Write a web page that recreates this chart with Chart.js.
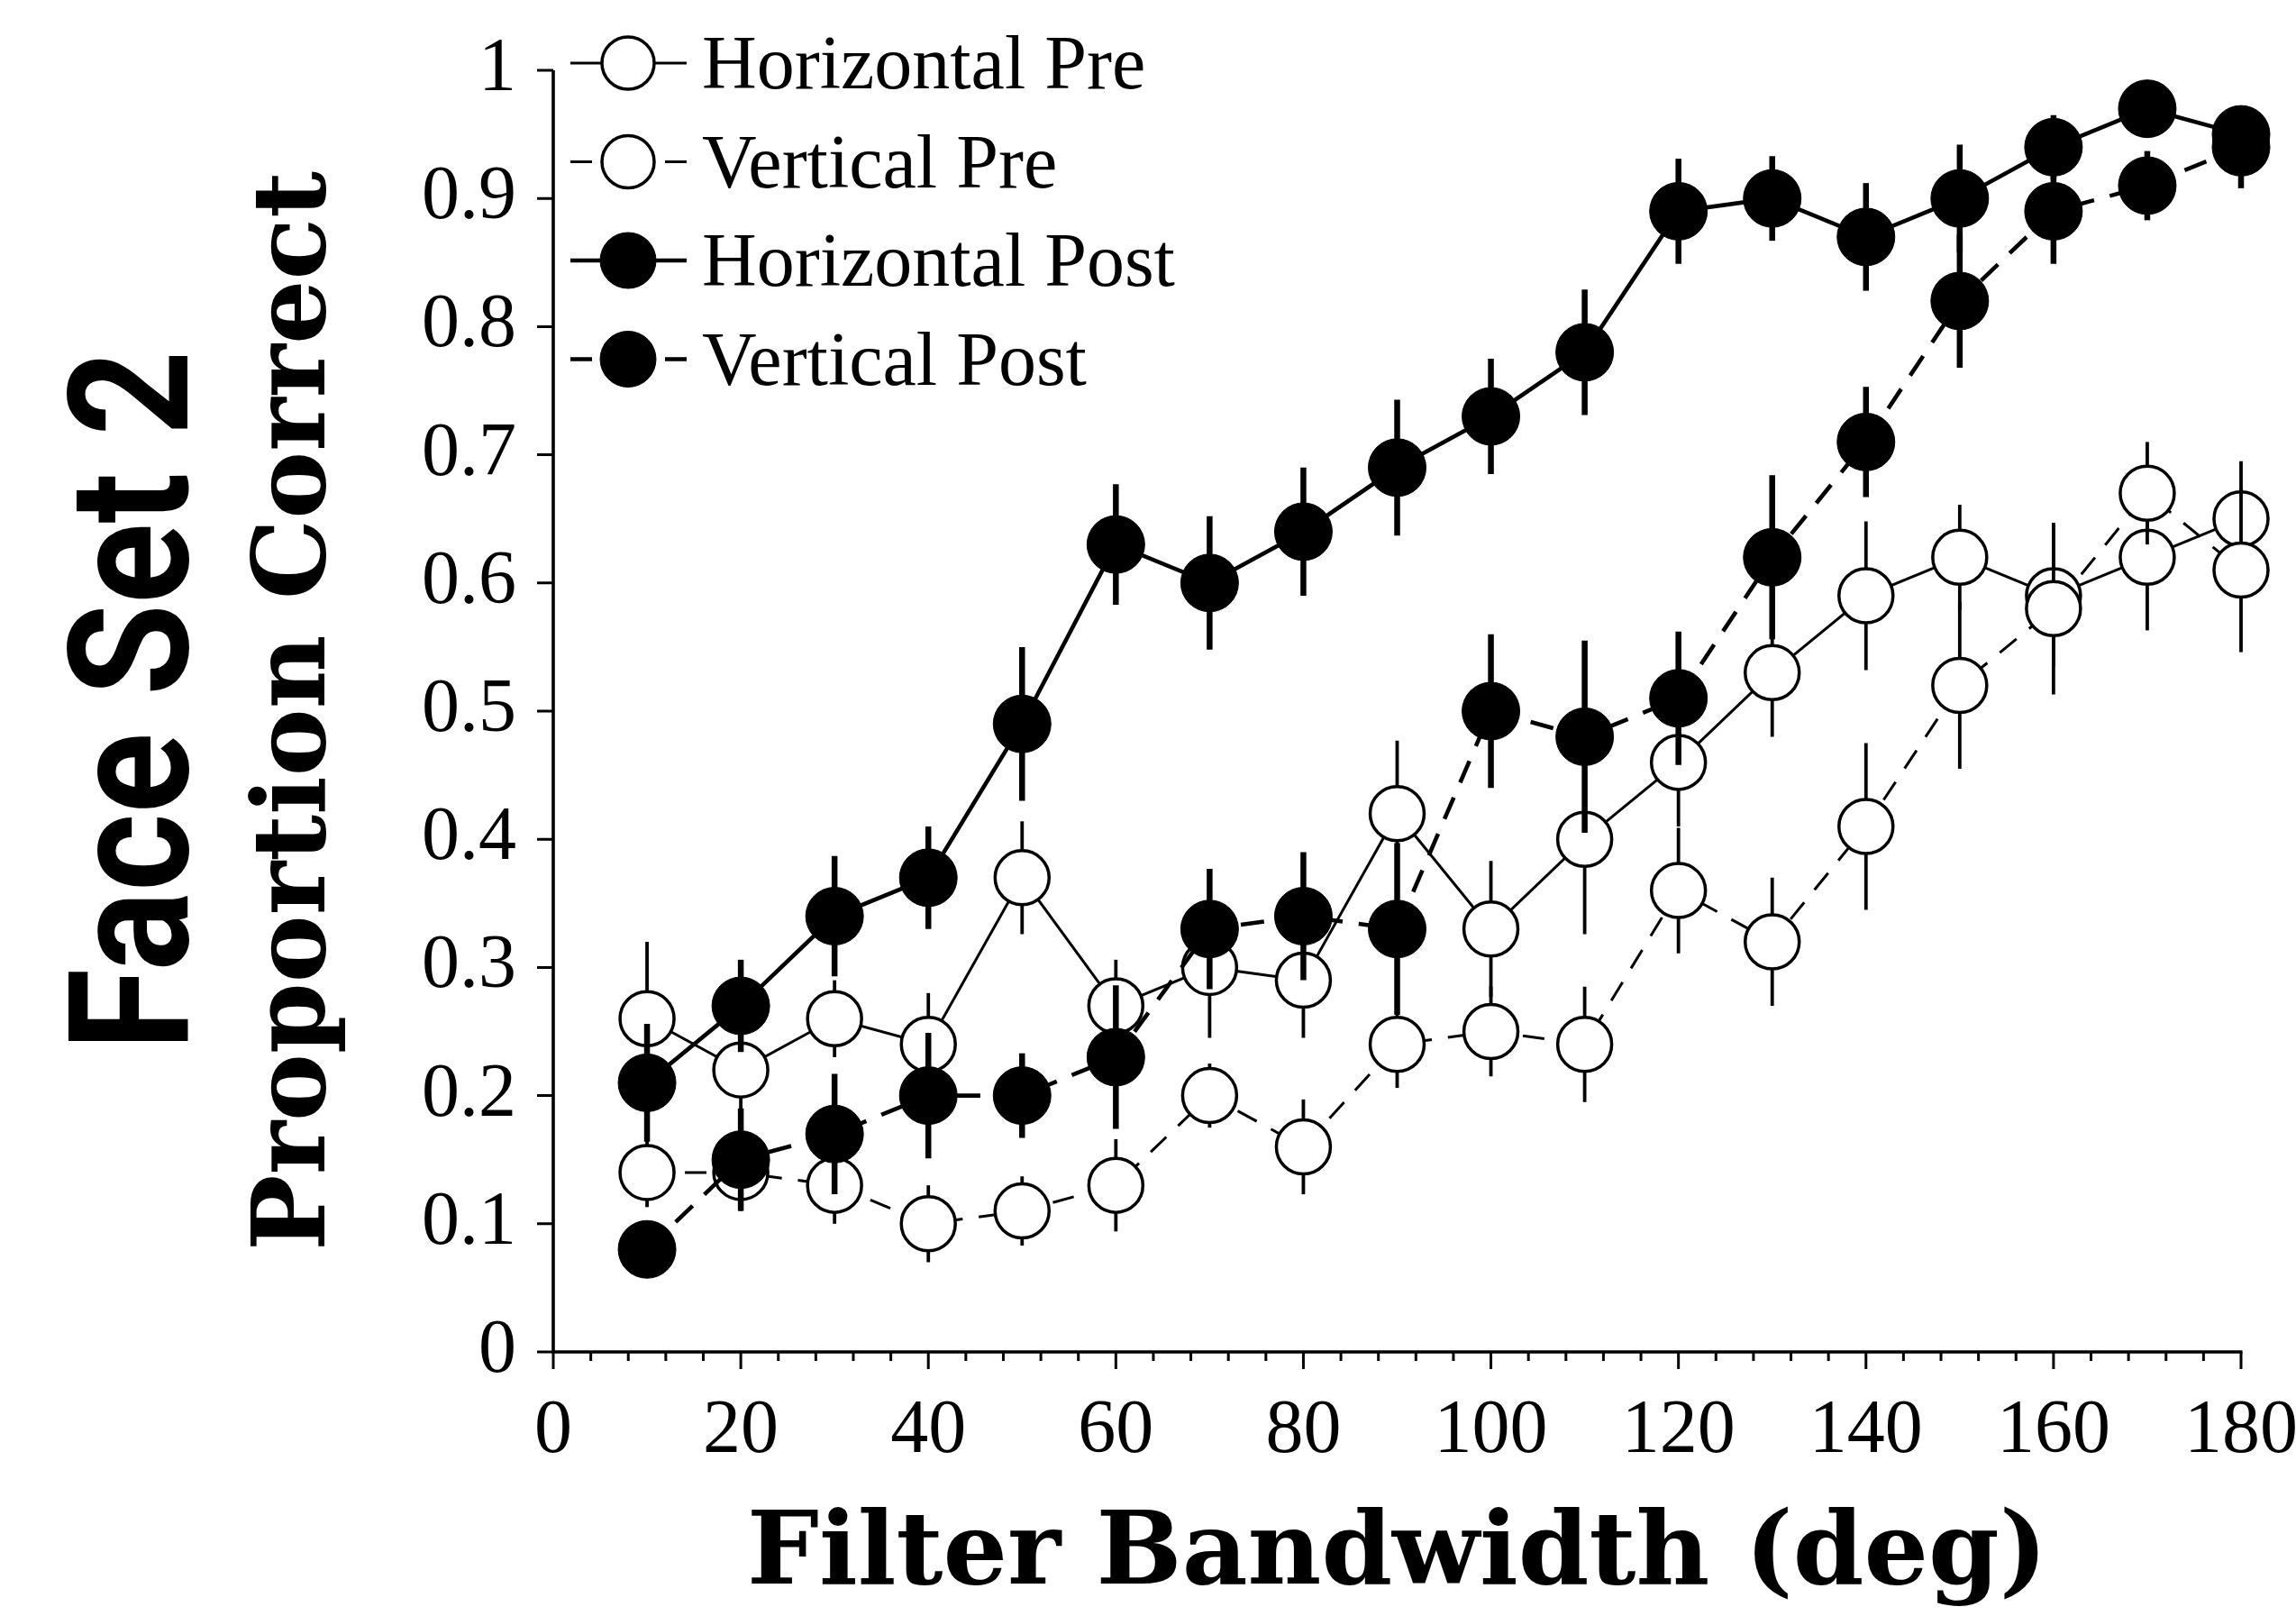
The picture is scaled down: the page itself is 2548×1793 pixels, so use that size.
<!DOCTYPE html>
<html>
<head>
<meta charset="utf-8">
<script src="https://cdn.jsdelivr.net/npm/chart.js@4.4.1/dist/chart.umd.min.js"></script>
<style>
html,body{margin:0;padding:0;background:#ffffff;}
canvas{display:block;}
</style>
</head>
<body>
<canvas id="c" width="2548" height="1793"></canvas>
<script>
// ---------------- data ----------------
const bandwidths = [10,20,30,40,50,60,70,80,90,100,110,120,130,140,150,160,170,180];

const horizontalPre    = [0.26,0.22,0.26,0.24,0.37,0.27,0.30,0.29,0.42,0.33,0.40,0.46,0.53,0.59,0.62,0.59,0.62,0.65];
const horizontalPreErr = [0.060,0.031,0.030,0.040,0.044,0.036,0.055,0.045,0.057,0.053,0.074,0.050,0.050,0.058,0.041,0.055,0.057,0.045];

const verticalPre      = [0.14,0.14,0.13,0.10,0.11,0.13,0.20,0.16,0.24,0.25,0.24,0.36,0.32,0.41,0.52,0.58,0.67,0.61];
const verticalPreErr   = [0.027,0.030,0.030,0.030,0.027,0.036,0.025,0.037,0.034,0.035,0.045,0.049,0.050,0.065,0.065,0.067,0.040,0.064];

const horizontalPost    = [0.21,0.27,0.34,0.37,0.49,0.63,0.60,0.64,0.69,0.73,0.78,0.89,0.90,0.87,0.90,0.94,0.97,0.95];
const horizontalPostErr = [0.046,0.036,0.047,0.040,0.060,0.047,0.052,0.050,0.053,0.045,0.049,0.041,0.033,0.042,0.042,0.025,0.012,0.020];

const verticalPost      = [0.08,0.15,0.17,0.20,0.20,0.23,0.33,0.34,0.33,0.50,0.48,0.51,0.62,0.71,0.82,0.89,0.91,0.94];
const verticalPostErr   = [0.020,0.040,0.047,0.049,0.033,0.056,0.047,0.050,0.067,0.060,0.075,0.052,0.064,0.043,0.052,0.041,0.027,0.032];

const seriesNames = ['Horizontal Pre','Vertical Pre','Horizontal Post','Vertical Post'];
const xTickLabels = ['0','20','40','60','80','100','120','140','160','180'];
const yTickLabels = ['0','0.1','0.2','0.3','0.4','0.5','0.6','0.7','0.8','0.9','1'];
const xAxisTitle = 'Filter Bandwidth (deg)';
const yAxisTitle = 'Proportion Correct';
const panelTitle = 'Face Set 2';

// ---------------- styles ----------------
const SERIF = '"Liberation Serif", "Times New Roman", serif';
const TITLE_SERIF = '"DejaVu Serif", "Liberation Serif", serif';
const styles = [
  {filled:false, dash:[],      lineWidth:3,   errWidth:3.8},
  {filled:false, dash:[24,18], lineWidth:3,   errWidth:3.8},
  {filled:true,  dash:[],      lineWidth:4.6, errWidth:6.5},
  {filled:true,  dash:[26,18], lineWidth:4.6, errWidth:6.5}
];
const seriesValues = [horizontalPre, verticalPre, horizontalPost, verticalPost];
const seriesErrors = [horizontalPreErr, verticalPreErr, horizontalPostErr, verticalPostErr];

// fit a bold title font to a target text length
const mctx = document.createElement('canvas').getContext('2d');
function fitSize(text, family, target){
  mctx.font = 'bold 100px ' + family;
  return 100 * target / mctx.measureText(text).width;
}
const MID = 0.346; // em distance from baseline to 'middle' for DejaVu Serif
const xTitleSize = fitSize(xAxisTitle, TITLE_SERIF, 1443);
const yTitleSize = fitSize(yAxisTitle, TITLE_SERIF, 1198);
const xTitlePadBottom = 1793 - (1767 - MID*xTitleSize) - xTitleSize/2;
const yTitlePadTop = (370 - MID*yTitleSize) - yTitleSize/2;

function makeDataset(k){
  const st = styles[k];
  return {
    label: seriesNames[k],
    data: bandwidths.map((b,i)=>({x:b, y:seriesValues[k][i]})),
    errors: seriesErrors[k],
    errWidth: st.errWidth,
    order: 4-k,
    borderColor:'#000',
    borderWidth: st.lineWidth,
    borderDash: st.dash,
    tension:0,
    fill:false,
    clip:false,
    pointStyle:'circle',
    pointRadius: st.filled ? 32 : 30,
    pointBorderWidth: st.filled ? 1 : 3.5,
    pointBackgroundColor: st.filled ? '#000' : '#fff',
    pointBorderColor:'#000',
    pointHoverRadius: st.filled ? 32 : 30
  };
}

// error bars: drawn just before each dataset (under its line and markers)
const errorBarPlugin = {
  id:'errorBars',
  beforeDatasetDraw(chart, args){
    const ds = chart.data.datasets[args.index];
    const xs = chart.scales.x, ys = chart.scales.y, ctx = chart.ctx;
    ctx.save();
    ctx.strokeStyle = '#000';
    ctx.lineWidth = ds.errWidth;
    ctx.lineCap = 'butt';
    ctx.setLineDash([]);
    ds.data.forEach((p,i)=>{
      const px = xs.getPixelForValue(p.x);
      ctx.beginPath();
      ctx.moveTo(px, ys.getPixelForValue(p.y - ds.errors[i]));
      ctx.lineTo(px, ys.getPixelForValue(p.y + ds.errors[i]));
      ctx.stroke();
    });
    ctx.restore();
  }
};

// axes lines and tick marks
const axesPlugin = {
  id:'axesLines',
  beforeDatasetsDraw(chart){
    const xs = chart.scales.x, ys = chart.scales.y, ctx = chart.ctx;
    const x0 = xs.getPixelForValue(xs.min), x1 = xs.getPixelForValue(xs.max);
    const y0 = ys.getPixelForValue(ys.min), y1 = ys.getPixelForValue(ys.max);
    ctx.save();
    ctx.strokeStyle = '#000';
    ctx.lineCap = 'butt';
    ctx.lineWidth = 3.6;
    ctx.beginPath();
    ctx.moveTo(x0, y1); ctx.lineTo(x0, y0 + 1.8);
    ctx.moveTo(x0 - 1.8, y0); ctx.lineTo(x1 + 1.5, y0);
    ctx.stroke();
    ctx.lineWidth = 3;
    ctx.beginPath();
    ys.ticks.forEach(t=>{
      const py = ys.getPixelForValue(t.value);
      ctx.moveTo(x0 - 18, py); ctx.lineTo(x0, py);
    });
    const minorStep = 4;
    for (let v = xs.min; v <= xs.max + 1e-9; v += minorStep){
      const px = xs.getPixelForValue(v);
      const major = Math.abs(v % 20) < 1e-9;
      ctx.moveTo(px, y0); ctx.lineTo(px, y0 + (major ? 19 : 10));
    }
    ctx.stroke();
    ctx.restore();
  }
};

// legend + panel title
const decorPlugin = {
  id:'decor',
  afterDraw(chart){
    const ctx = chart.ctx;
    ctx.save();
    const lx0 = 633, lx1 = 762, mx = 697, tx = 779, row0 = 70, gap = 109.5, seg = 24;
    seriesNames.forEach((name,k)=>{
      const st = styles[k];
      const cy = row0 + gap*k;
      ctx.strokeStyle = '#000';
      ctx.lineWidth = st.lineWidth;
      ctx.setLineDash([]);
      ctx.beginPath();
      if (st.dash.length){
        ctx.moveTo(lx0, cy); ctx.lineTo(lx0 + seg, cy);
        ctx.moveTo(lx1 - seg, cy); ctx.lineTo(lx1, cy);
      } else {
        ctx.moveTo(lx0, cy); ctx.lineTo(lx1, cy);
      }
      ctx.stroke();
      ctx.beginPath();
      ctx.arc(mx, cy, st.filled ? 31 : 29, 0, Math.PI*2);
      ctx.fillStyle = st.filled ? '#000' : '#fff';
      ctx.fill();
      ctx.lineWidth = st.filled ? 1 : 3.5;
      ctx.stroke();
      ctx.fillStyle = '#000';
      ctx.font = '84px ' + SERIF;
      ctx.textAlign = 'left';
      ctx.textBaseline = 'alphabetic';
      ctx.fillText(name, tx, cy + 28);
    });
    // panel title, rotated
    ctx.font = 'bold 186px Roboto, "DejaVu Sans", sans-serif';
    const w = ctx.measureText(panelTitle).width;
    const sx = 777 / w;
    ctx.translate(208, 777);
    ctx.rotate(-Math.PI/2);
    ctx.scale(sx, 1);
    ctx.textAlign = 'center';
    ctx.textBaseline = 'alphabetic';
    ctx.fillStyle = '#000';
    ctx.fillText(panelTitle, 0, 0);
    ctx.restore();
  }
};

const chart = new Chart(document.getElementById('c'), {
  type:'line',
  data:{ datasets:[0,1,2,3].map(makeDataset) },
  options:{
    responsive:false,
    animation:false,
    devicePixelRatio:1,
    events:[],
    layout:{ padding:{left:0, right:61, top:78, bottom:0} },
    plugins:{ legend:{display:false}, tooltip:{enabled:false} },
    scales:{
      x:{
        type:'linear', min:0, max:180,
        grid:{display:false}, border:{display:false},
        ticks:{
          stepSize:20, autoSkip:false, maxRotation:0, minRotation:0, padding:31,
          color:'#000', font:{family:SERIF, size:84},
          callback:(v,i)=>xTickLabels[i]
        },
        title:{
          display:true, text:xAxisTitle, color:'#000',
          font:{family:TITLE_SERIF, size:xTitleSize, weight:'bold', lineHeight:1},
          padding:{top:0, bottom:xTitlePadBottom}
        },
        afterFit:(s)=>{ s.height = 293; s.paddingLeft = 0; s.paddingRight = 0; }
      },
      y:{
        type:'linear', min:0, max:1,
        grid:{display:false}, border:{display:false},
        ticks:{
          stepSize:0.1, autoSkip:false, padding:33,
          color:'#000', font:{family:SERIF, size:84},
          callback:(v,i)=>yTickLabels[i]
        },
        title:{
          display:true, text:yAxisTitle, color:'#000',
          font:{family:TITLE_SERIF, size:yTitleSize, weight:'bold', lineHeight:1},
          padding:{top:yTitlePadTop, bottom:0}
        },
        afterFit:(s)=>{ s.width = 614; s.paddingTop = 0; s.paddingBottom = 0; }
      }
    }
  },
  plugins:[errorBarPlugin, axesPlugin, decorPlugin]
});
</script>
</body>
</html>
